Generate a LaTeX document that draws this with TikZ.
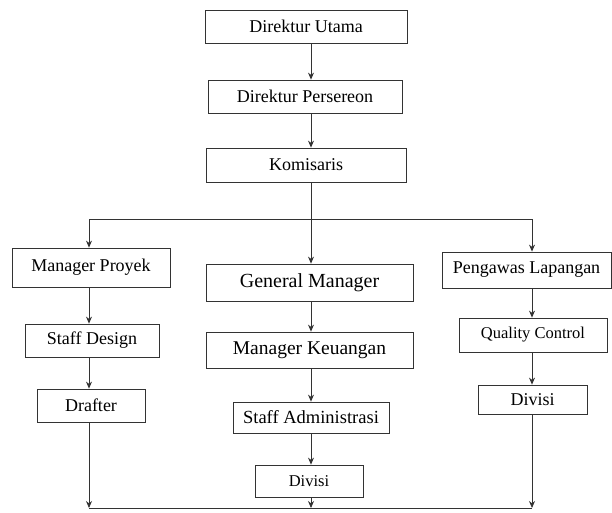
\documentclass[tikz,border=0pt]{standalone}
\usepackage{fontspec}
\setmainfont{Liberation Serif}
\newfontfamily\tnr{Liberation Serif}
\usetikzlibrary{arrows.meta}
\begin{document}
\begin{tikzpicture}[x=1pt,y=-1pt,
  box/.style={draw=black!80, line width=0.8pt, inner sep=0pt, font=\tnr\fontsize{18}{20}\selectfont},
  conn/.style={draw=black!80, line width=0.8pt},
  arr/.style={conn, -{Stealth[length=7pt,width=6pt]}}]
\useasboundingbox (0,0) rectangle (612,512);
% top chain
\node[box, minimum width=202, minimum height=33] (du) at (306,26.5) {Direktur Utama};
\node[box, minimum width=194, minimum height=33] (dp) at (305,96.5) {Direktur Persereon};
\node[box, minimum width=200, minimum height=34] (ko) at (306,165) {Komisaris};
% left column
\node[box, minimum width=158, minimum height=39] (mp) at (91,267.5) {Manager Proyek};
\node[box, minimum width=134, minimum height=33] (sd) at (92,340.5) {Staff Design};
\node[box, minimum width=108, minimum height=33] (dr) at (91,405.5) {Drafter};
% middle column
\node[box, minimum width=207, minimum height=37, font=\tnr\fontsize{20}{22}\selectfont] (gm) at (309.5,282.5) {General Manager};
\node[box, minimum width=207, minimum height=36, font=\tnr\fontsize{19.5}{22}\selectfont] (mk) at (309.5,350) {Manager Keuangan};
\node[box, minimum width=156, minimum height=31, font=\tnr\fontsize{18.5}{20}\selectfont] (sa) at (311,417.5) {Staff Administrasi};
\node[box, minimum width=108, minimum height=32, font=\tnr\fontsize{16.5}{19}\selectfont] (dm) at (309,481) {Divisi};
% right column
\node[box, minimum width=169, minimum height=36] (pl) at (526.5,270) {Pengawas Lapangan};
\node[box, minimum width=148, minimum height=34, font=\tnr\fontsize{16.5}{19}\selectfont] (qc) at (533,335) {Quality Control};
\node[box, minimum width=109, minimum height=29] (dv) at (532.5,399.5) {Divisi};
% junction coordinates
\coordinate (tl) at (89,219);
\coordinate (tm) at (311,219);
\coordinate (tr) at (532,219);
\coordinate (bl) at (89,508);
\coordinate (bm) at (311,508);
\coordinate (br) at (532,508);
% top chain connectors
\draw[arr] (du.south -| tm) -- (dp.north -| tm);
\draw[arr] (dp.south -| tm) -- (ko.north -| tm);
\draw[arr] (ko.south -| tm) -- (gm.north -| tm);
\draw[conn] (tl) -- (tr);
\draw[arr] (tl) -- (mp.north -| tl);
\draw[arr] (tr) -- (pl.north -| tr);
% left column
\draw[arr] (mp.south -| tl) -- (sd.north -| tl);
\draw[arr] (sd.south -| tl) -- (dr.north -| tl);
\draw[arr] (dr.south -| tl) -- (bl);
% middle column
\draw[arr] (gm.south -| tm) -- (mk.north -| tm);
\draw[arr] (mk.south -| tm) -- (sa.north -| tm);
\draw[arr] (sa.south -| tm) -- (dm.north -| tm);
\draw[arr] (dm.south -| tm) -- (bm);
% right column
\draw[arr] (pl.south -| tr) -- (qc.north -| tr);
\draw[arr] (qc.south -| tr) -- (dv.north -| tr);
\draw[arr] (dv.south -| tr) -- (br);
% bottom line
\draw[conn] (bl) -- (br);
\end{tikzpicture}
\end{document}
